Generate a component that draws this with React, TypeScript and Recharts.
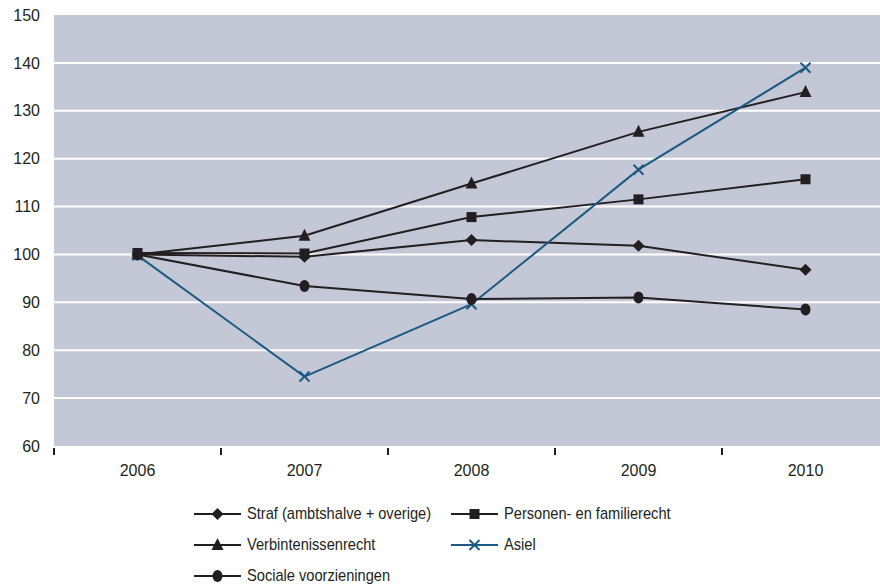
import React from "react";
import { LineChart, Line, XAxis, YAxis, CartesianGrid } from "recharts";

const years = ["2006", "2007", "2008", "2009", "2010"];
const straf = [100, 99.5, 103, 101.8, 96.8];
const personen = [100.3, 100.2, 107.8, 111.5, 115.7];
const verbintenis = [100, 103.9, 114.8, 125.6, 133.9];
const asiel = [99.8, 74.5, 89.6, 117.7, 139];
const sociale = [100, 93.4, 90.7, 91, 88.5];

const yTicks = [60, 70, 80, 90, 100, 110, 120, 130, 140, 150];
const gridValues = [70, 80, 90, 100, 110, 120, 130, 140];

const data = years.map((year, i) => ({
  year,
  straf: straf[i],
  personen: personen[i],
  verbintenis: verbintenis[i],
  asiel: asiel[i],
  sociale: sociale[i],
}));

const DARK = "#231f20";
const BLUE = "#1b5a82";
const FONT = "'Liberation Sans', Arial, sans-serif";

type Shape = "diamond" | "square" | "triangle" | "cross" | "circle";

function Marker({ shape, cx, cy }: { shape: Shape; cx: number; cy: number }) {
  if (cx == null || cy == null) return null;
  switch (shape) {
    case "diamond":
      return <polygon points={`${cx},${cy - 6} ${cx + 6},${cy} ${cx},${cy + 6} ${cx - 6},${cy}`} fill={DARK} />;
    case "square":
      return <rect x={cx - 5} y={cy - 5} width={10} height={10} fill={DARK} />;
    case "triangle":
      return <polygon points={`${cx},${cy - 7} ${cx + 6},${cy + 5} ${cx - 6},${cy + 5}`} fill={DARK} />;
    case "circle":
      return <ellipse cx={cx} cy={cy} rx={5} ry={6} fill={DARK} />;
    case "cross":
      return (
        <g stroke={BLUE} strokeWidth={2}>
          <line x1={cx - 5} y1={cy - 5} x2={cx + 5} y2={cy + 5} />
          <line x1={cx - 5} y1={cy + 5} x2={cx + 5} y2={cy - 5} />
        </g>
      );
  }
}

const series: { key: string; name: string; shape: Shape; color: string }[] = [
  { key: "straf", name: "Straf (ambtshalve + overige)", shape: "diamond", color: DARK },
  { key: "personen", name: "Personen- en familierecht", shape: "square", color: DARK },
  { key: "verbintenis", name: "Verbintenissenrecht", shape: "triangle", color: DARK },
  { key: "asiel", name: "Asiel", shape: "cross", color: BLUE },
  { key: "sociale", name: "Sociale voorzieningen", shape: "circle", color: DARK },
];

function LegendItem({ s }: { s: (typeof series)[number] }) {
  return (
    <div style={{ display: "flex", alignItems: "center", height: 31, whiteSpace: "nowrap" }}>
      <svg width={47} height={16} style={{ marginRight: 6, flexShrink: 0 }}>
        <line x1={0} y1={8} x2={47} y2={8} stroke={s.color} strokeWidth={2} />
        <Marker shape={s.shape} cx={23.5} cy={8} />
      </svg>
      <span style={{ display: "inline-block", transform: "scaleX(0.86)", transformOrigin: "left center" }}>{s.name}</span>
    </div>
  );
}

// label at the band centre, tick mark at the band's left edge
function YearTick(props: any) {
  const { x, y, payload } = props;
  const half = payload?.offset ?? 0;
  return (
    <g>
      <line x1={x - half} y1={y + 2} x2={x - half} y2={y + 9} stroke={DARK} strokeWidth={2} />
      <text x={x} y={y + 30} textAnchor="middle" fill={DARK} fontSize={16} fontFamily={FONT}>
        {payload.value}
      </text>
    </g>
  );
}

export default function App() {
  return (
    <div style={{ position: "fixed", left: 0, top: 0, width: 880, height: 587, overflow: "hidden", background: "#fff", fontFamily: FONT }}>
      <LineChart width={900} height={490} data={data} margin={{ top: 15, right: 11, left: 0, bottom: 0 }}>
        <CartesianGrid
          vertical={false}
          horizontalValues={gridValues}
          stroke="#ffffff"
          strokeWidth={2}
          fill="#c4c7d6"
          fillOpacity={1}
        />
        <XAxis
          dataKey="year"
          scale="band"
          axisLine={false}
          tickLine={false}
          tickSize={0}
          tickMargin={0}
          height={44}
          tick={YearTick}
        />
        <YAxis
          domain={[60, 150]}
          ticks={yTicks}
          width={54}
          axisLine={false}
          tickLine={false}
          tickSize={0}
          tickMargin={14}
          tick={{ fill: DARK, fontSize: 16, fontFamily: FONT }}
        />
        {series.map((s) => (
          <Line
            key={s.key}
            dataKey={s.key}
            name={s.name}
            stroke={s.color}
            strokeWidth={2}
            type="linear"
            isAnimationActive={false}
            dot={(p: any) => <Marker key={`${s.key}-${p.index}`} shape={s.shape} cx={p.cx} cy={p.cy} />}
            activeDot={false}
          />
        ))}
      </LineChart>
      <div
        style={{
          position: "absolute",
          top: 498,
          left: 194,
          display: "grid",
          gridTemplateColumns: "257px auto",
          fontSize: 17,
          color: DARK,
        }}
      >
        {series.map((s) => (
          <LegendItem key={s.key} s={s} />
        ))}
      </div>
    </div>
  );
}
